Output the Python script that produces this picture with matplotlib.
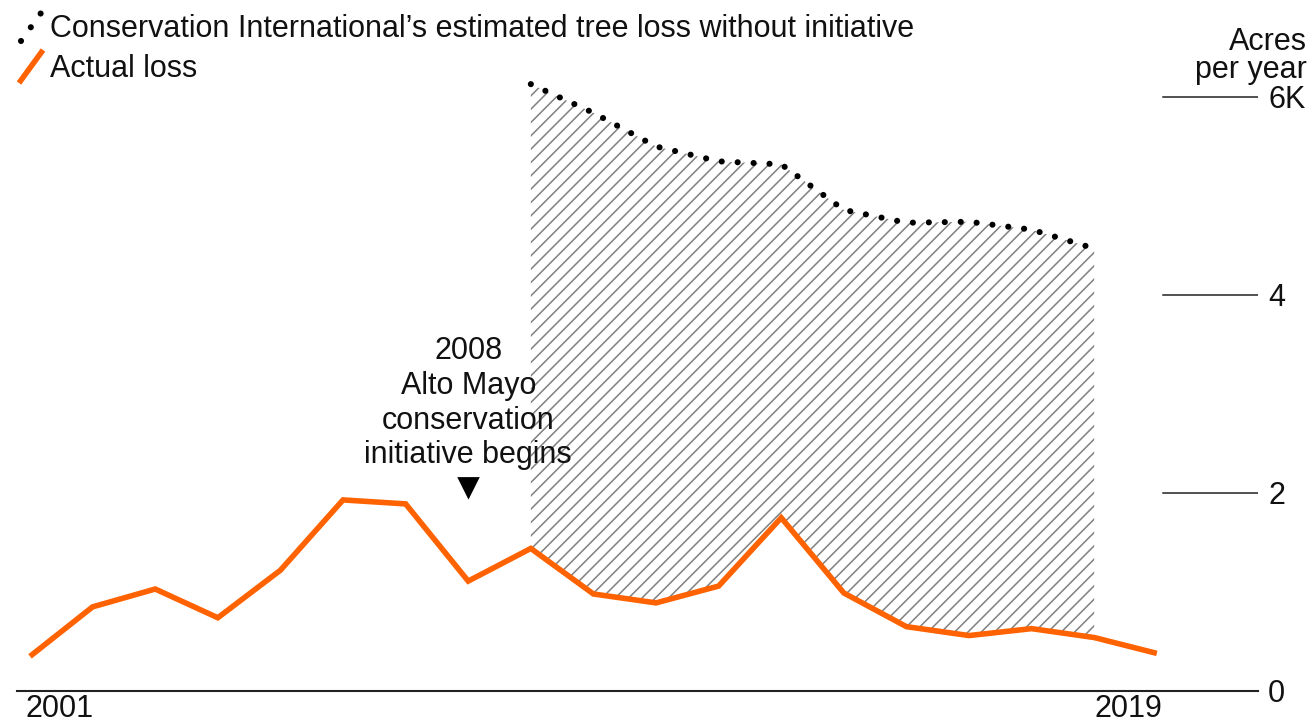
import matplotlib.pyplot as plt
from matplotlib.lines import Line2D
import matplotlib.transforms as mtransforms

plt.rcParams['font.family'] = ['Liberation Sans', 'DejaVu Sans']
plt.rcParams['hatch.linewidth'] = 0.55

# data (thousand acres per year)
years = list(range(2001, 2020))
actual_loss = [0.35, 0.85, 1.03, 0.74, 1.22, 1.93, 1.89, 1.11, 1.44, 0.98,
               0.89, 1.06, 1.75, 0.99, 0.65, 0.56, 0.63, 0.54, 0.38]
est_years = list(range(2009, 2019))
est_loss = [6.13, 5.84, 5.50, 5.35, 5.32, 4.86, 4.73, 4.74, 4.66, 4.47]
y_ticks = [0, 2, 4, 6]
y_tick_labels = ['0', '2', '4', '6K']
x_tick_years = [2001, 2019]
start_year = 2008

ORANGE = '#ff6200'
W, H = 1316, 725
FS = 11

fig = plt.figure(figsize=(W / 200, H / 200), dpi=200)
ax = fig.add_axes([17 / W, (H - 691) / H, 1241 / W, 623.7 / H])
ax.set_xlim(2000.792, 2020.616)
ax.set_ylim(0, 6.3)

# hatched gap between estimate and actual
actual_sub = [actual_loss[years.index(y)] for y in est_years]
ax.fill_between(est_years, actual_sub, est_loss, facecolor='white',
                edgecolor='#808080', hatch='/////', linewidth=0, zorder=1)

dotted = (0, (0.01, 2.6))
ax.plot(est_years, est_loss, color='black', lw=2.2, linestyle=dotted,
        dash_capstyle='round', zorder=3)
ax.plot(years, actual_loss, color=ORANGE, lw=2.0, solid_joinstyle='miter',
        solid_capstyle='butt', zorder=4)

# short right-hand gridlines
for v in y_ticks[1:]:
    ax.axhline(v, xmin=0.9235, xmax=1, color='#222222', lw=0.55, zorder=0)

for s in ['top', 'left', 'right']:
    ax.spines[s].set_visible(False)
ax.spines['bottom'].set_color('#222222')
ax.spines['bottom'].set_linewidth(0.75)

ax.yaxis.tick_right()
ax.set_yticks(y_ticks, y_tick_labels)
ax.tick_params(axis='y', length=0, pad=3.6, labelsize=FS, labelcolor='#111111')

ax.set_xticks(x_tick_years, [str(y) for y in x_tick_years])
ax.tick_params(axis='x', length=0, pad=1.2, labelsize=FS, labelcolor='#111111')
xl = ax.get_xticklabels()
xl[0].set_ha('left')
xl[0].set_transform(xl[0].get_transform() +
                    mtransforms.ScaledTranslation(-5 / 200, 0, fig.dpi_scale_trans))
xl[1].set_ha('right')
xl[1].set_transform(xl[1].get_transform() +
                    mtransforms.ScaledTranslation(6 / 200, 0, fig.dpi_scale_trans))

# annotation
ax.text(start_year, 2.23, f"{start_year}\nAlto Mayo\nconservation\ninitiative begins",
        ha='center', va='bottom', fontsize=FS, linespacing=1.2, color='#111111')
ax.plot(start_year, 2.06, marker='v', color='black', markersize=6.8, zorder=5)

# legend
fig.text(50 / W, 1 - 37 / H, 'Conservation International\u2019s estimated tree loss without initiative',
         fontsize=FS, va='baseline', color='#111111')
fig.text(50 / W, 1 - 77 / H, 'Actual loss', fontsize=FS, va='baseline', color='#111111')
fig.add_artist(Line2D([21 / W, 41 / W], [1 - 41 / H, 1 - 13 / H], transform=fig.transFigure,
                      color='black', lw=2.2, linestyle=(0, (0.01, 2.75)), dash_capstyle='round'))
fig.add_artist(Line2D([19 / W, 43 / W], [1 - 83 / H, 1 - 50 / H], transform=fig.transFigure,
                      color=ORANGE, lw=2.0, solid_capstyle='butt'))

# unit label
fig.text(1307 / W, 1 - 27 / H, 'Acres\nper year', fontsize=FS, ha='right', va='top',
         linespacing=0.92, color='#111111')

fig.savefig('out.png', dpi=200, facecolor='white')
